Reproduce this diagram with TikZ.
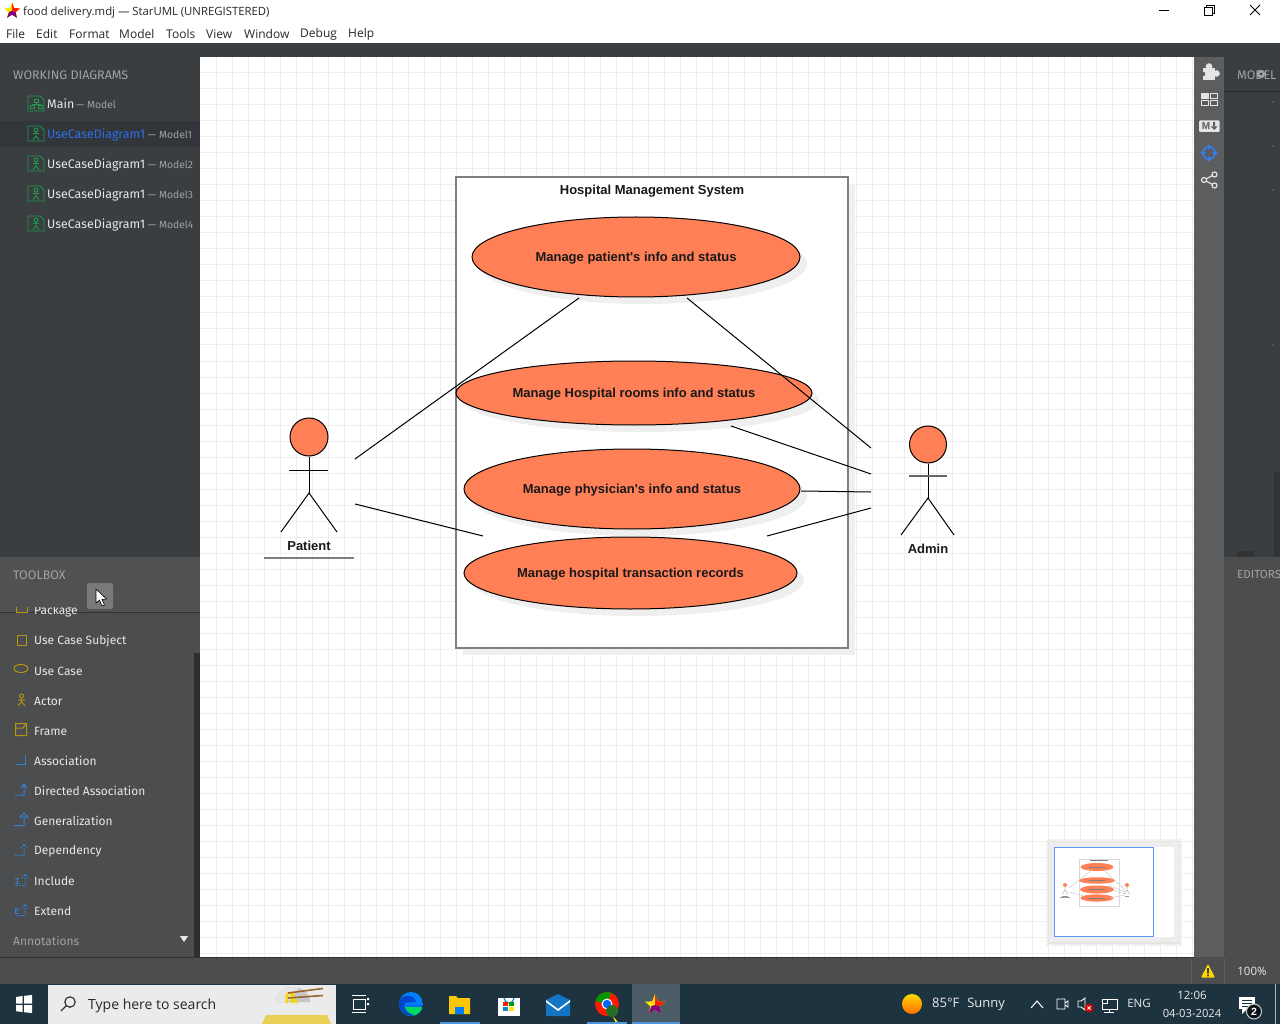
\documentclass[tikz,border=0pt]{standalone}
\usepackage{fontspec}
\setmainfont{Liberation Sans}
\newfontfamily\diagfont{Liberation Sans}
\newfontfamily\uifont{Open Sans}
\newfontfamily\panelfont{Fira Sans}
\usetikzlibrary{shapes.geometric}
\definecolor{darkpanel}{HTML}{3A3E41}
\definecolor{selrow}{HTML}{32363A}
\definecolor{toolpanel}{HTML}{4C4D4F}
\definecolor{toolhead}{HTML}{505153}
\definecolor{iconbar}{HTML}{5C5D5F}
\definecolor{taskbar}{HTML}{1E3340}
\definecolor{gridc}{HTML}{EEEEEE}
\definecolor{shadowc}{HTML}{EFEFEF}
\definecolor{coral}{HTML}{FF7F56}
\definecolor{framec}{HTML}{808080}
\definecolor{greenic}{HTML}{1B9B4B}
\definecolor{goldic}{HTML}{B8930F}
\definecolor{blueic}{HTML}{2F82D6}
\definecolor{crossc}{HTML}{2F80F5}
\definecolor{mutedt}{HTML}{A0A2A4}
\definecolor{lightt}{HTML}{E6E8EA}
\definecolor{linkt}{HTML}{2B6EE8}
\definecolor{iconwhite}{HTML}{E4E4E4}
\newcommand{\fs}[1]{\fontsize{#1}{#1}\selectfont}
\newcommand{\low}[1]{\raisebox{-4.5pt}[5pt][5pt]{#1}}
\newcommand{\docicon}[3]{%
 \begin{scope}[shift={(#1,#2)},greenic,line width=0.9pt]
  \draw (-8,-7.5) -- (4,-7.5) -- (8,-3.5) -- (8,7.5) -- (-8,7.5) -- cycle;
  \ifnum#3=1
   \draw (-2,-4.5) rectangle (2,-1.5) (-6,2) rectangle (-2,5) (2,2) rectangle (6,5) (0,-1.5) -- (0,0.5) (-4,2) -- (-4,0.5) -- (4,0.5) -- (4,2);
  \else
   \draw (0,-3.5) circle (2) (0,-1.5) -- (0,2.5) (-3,0) -- (3,0) (-3,6) -- (0,2.5) -- (3,6);
  \fi
 \end{scope}}
\newcommand{\stariconat}[3]{%
 \begin{scope}[shift={(#1,#2)},scale=#3]
  \fill[yellow!85!orange] (0,-9) -- (2.3,-3) -- (8.5,-2.8) -- (3.8,1.2) -- (5.3,7.3) -- (0,3.9) -- (-5.3,7.3) -- (-3.8,1.2) -- (-8.5,-2.8) -- (-2.3,-3) -- cycle;
  \fill[red!80!orange] (0,-9) -- (2.3,-3) -- (8.5,-2.8) -- (3.8,1.2) -- (0,0) -- cycle;
  \fill[violet] (0,0) -- (3.8,1.2) -- (5.3,7.3) -- (0,3.9) -- (-5.3,7.3) -- (-3,1) -- cycle;
 \end{scope}}
\tikzset{
 uitxt/.style={anchor=west,inner sep=0pt,text=black!85,font=\uifont\fs{12}},
 rowtxt/.style={anchor=west,inner sep=0pt,text=lightt,font=\panelfont\fs{12.4}},
 subtxt/.style={anchor=west,inner sep=0pt,text=mutedt,font=\panelfont\fs{10.3}},
 headtxt/.style={anchor=west,inner sep=0pt,text=mutedt,font=\panelfont\fs{12.5}},
 tooltxt/.style={anchor=west,inner sep=0pt,text=lightt,font=\panelfont\fs{12}},
 traytxt/.style={inner sep=0pt,text=white!92!black,font=\uifont\fs{13}},
 usecase/.style={ellipse,draw=black,line width=1pt,fill=coral,inner sep=0pt,font=\diagfont\bfseries\fs{13},text=black!90},
 actorname/.style={inner sep=0pt,font=\diagfont\bfseries\fs{13},text=black!90},
 actorpart/.style={draw=black,line width=1pt},
 assoc/.style={draw=black,line width=1pt},
 goldicon/.style={draw=goldic,line width=1pt},
 blueicon/.style={draw=blueic,line width=1pt},
 bluedash/.style={draw=blueic,line width=1pt,dash pattern=on 1.5pt off 1.5pt},
 minitrace/.style={draw=black!18,line width=0.6pt},
}
\begin{document}
\begin{tikzpicture}[x=1pt,y=-1pt,line cap=butt]
\useasboundingbox (0,0) rectangle (1280,1024);
\clip (0,0) rectangle (1280,1024);
%---- window chrome
\fill[white] (0,0) rectangle (1280,43);
\fill[darkpanel] (0,43) rectangle (1280,57);
\fill[darkpanel] (0,57) rectangle (200,557);
\fill[toolpanel] (0,557) rectangle (200,957);
\fill[darkpanel] (1224,57) rectangle (1280,557);
\fill[black!30!darkpanel] (1224,91) -- (1280,91) -- (1280,92) -- (1224,92) -- cycle;
\fill[toolpanel] (1224,557) rectangle (1280,957);
\fill[iconbar] (1194,57) rectangle (1224,957);
\fill[toolpanel] (0,957) rectangle (1280,984);
\fill[taskbar] (0,984) rectangle (1280,1024);
\stariconat{12}{11}{0.95}
\node[uitxt,font=\uifont\fs{11.35}] (title) at (23,13) {food delivery.mdj — StarUML (UNREGISTERED)};
\node[uitxt] (mFile) at (6,34) {File};
\node[uitxt] (mEdit) at (36,34) {Edit};
\node[uitxt] (mFormat) at (69,34) {Format};
\node[uitxt] (mModel) at (119,34) {Model};
\node[uitxt] (mTools) at (166,34) {Tools};
\node[uitxt] (mView) at (206,34) {View};
\node[uitxt] (mWindow) at (244,34) {Window};
\node[uitxt] (mDebug) at (300,34) {Debug};
\node[uitxt] (mHelp) at (348,34) {Help};
\draw[black,line width=0.8pt] (1159,10.5) -- (1169,10.5);
\draw[black,line width=0.8pt] (1204.5,7.5) rectangle (1212.5,15.5) (1206.5,7.5) -- (1206.5,5.5) -- (1214.5,5.5) -- (1214.5,13.5) -- (1212.5,13.5);
\draw[black,line width=0.8pt] (1250,5) -- (1260,15) (1260,5) -- (1250,15);
%---- canvas
\fill[white] (200,57) rectangle (1194,957);
\draw[gridc,line width=1pt] \foreach \gx in {216,232,...,1192} {(\gx,57) -- (\gx,957)};
\draw[gridc,line width=1pt] \foreach \gy in {73,89,...,953} {(200,\gy) -- (1194,\gy)};
%---- working diagrams
\fill[selrow] (0,121) rectangle (200,147);
\node[headtxt] (wd) at (13,75) {WORKING DIAGRAMS};
\docicon{36}{103.5}{1}
\docicon{36}{133.5}{0}
\docicon{36}{163.5}{0}
\docicon{36}{193.5}{0}
\docicon{36}{223.5}{0}
\node[rowtxt] (r1) at (47,104) {Main};
\node[subtxt] (r1s) at (76,104.5) {— Model};
\node[rowtxt,text=linkt] (r2) at (47,134.5) {UseCaseDiagram1};
\node[subtxt] (r2s) at (148,134.5) {— Model1};
\node[rowtxt] (r3) at (47,164.5) {UseCaseDiagram1};
\node[subtxt] (r3s) at (148,164.5) {— Model2};
\node[rowtxt] (r4) at (47,194.5) {UseCaseDiagram1};
\node[subtxt] (r4s) at (148,194.5) {— Model3};
\node[rowtxt] (r5) at (47,224.5) {UseCaseDiagram1};
\node[subtxt] (r5s) at (148,224.5) {— Model4};
%---- toolbox
\fill[toolhead] (0,557) rectangle (200,612);
\fill[black!35!toolpanel] (0,612) rectangle (200,613);
\begin{scope}
 \clip (0,607) rectangle (200,957);
 \node[tooltxt] (tPack) at (34,611) {Package};
 \draw[goldicon] (16,601) rectangle (27,612.5);
\end{scope}
\node[headtxt] (tb) at (13,575) {TOOLBOX};
\fill[white!25!toolpanel,rounded corners=2pt] (87,583) rectangle (113,609);
\draw[black,fill=white,line width=0.6pt] (96,589) -- (96,603) -- (99.5,600) -- (102,606) -- (104.5,605) -- (102,599.5) -- (106.5,599) -- cycle;
\fill[black!82] (194,653) rectangle (200,957);
\node[tooltxt] (t1) at (34,641.5) {Use Case Subject};
\node[tooltxt] (t2) at (34,671) {Use Case};
\node[tooltxt] (t3) at (34,701) {Actor};
\node[tooltxt] (t4) at (34,731) {Frame};
\node[tooltxt] (t5) at (34,761) {Association};
\node[tooltxt] (t6) at (34,791) {Directed Association};
\node[tooltxt] (t7) at (34,821) {Generalization};
\node[tooltxt] (t8) at (34,851.5) {Dependency};
\node[tooltxt] (t9) at (34,881) {Include};
\node[tooltxt] (t10) at (34,911) {Extend};
\node[headtxt,font=\panelfont\fs{12}] (tAnn) at (13,941) {Annotations};
\fill[lightt] (180,936) -- (188,936) -- (184,942) -- cycle;
\draw[goldicon] (17,635) rectangle (26,645);
\draw[goldicon] (21,668.5) ellipse [x radius=7, y radius=4];
\draw[goldicon] (21.5,696) circle (2) (21.5,698) -- (21.5,702) (18,700) -- (25,700) (18,705.5) -- (21.5,702) -- (25,705.5);
\draw[goldicon] (15.5,723.5) rectangle (26.5,735.5) (15.5,728) -- (23,728) -- (26,724);
\draw[blueicon] (25.5,755) -- (25.5,764.5) -- (16,764.5);
\draw[blueicon] (24,785) -- (24,795) -- (15,795) (21,788) -- (24,784) -- (27,788);
\draw[blueicon] (24,817) -- (24,825.5) -- (14,825.5) (20,817) -- (24,813) -- (28,817) -- cycle;
\draw[bluedash] (24,845) -- (24,855.5) -- (15,855.5) (21,848) -- (24,844) -- (27,848);
\draw[bluedash] (25,875) -- (25,885.5) -- (15,885.5) (22,878) -- (25,874) -- (28,878);
\draw[blueicon,line width=0.8pt] (15,878) -- (19,878) (17,878) -- (17,883) (15,883) -- (19,883);
\draw[bluedash] (25,905) -- (25,915.5) -- (15,915.5) (22,908) -- (25,904) -- (28,908);
\draw[blueicon,line width=0.8pt] (19,908) -- (15,908) -- (15,913) -- (19,913) (15,910.5) -- (18,910.5);
%---- right icon bar and panel
\fill[iconwhite] (1203,68) rectangle (1215,80);
\fill[iconwhite] (1209,66.5) circle (3.3) (1216.5,73.5) circle (3.3);
\fill[iconbar] (1203,74) circle (2.3);
\draw[iconwhite,line width=1pt] (1201.5,93.5) rectangle (1208.5,98.5) (1210.5,93.5) rectangle (1217.5,98.5) (1201.5,100.5) rectangle (1208.5,105.5) (1210.5,100.5) rectangle (1217.5,105.5);
\fill[iconwhite] (1201.5,93.5) rectangle (1208.5,98.5);
\fill[iconwhite,rounded corners=1pt] (1199,120.5) rectangle (1219.5,132);
\node[inner sep=0pt,font=\diagfont\bfseries\fs{10},text=iconbar] (mdn) at (1206,126.5) {M};
\fill[iconbar] (1213.2,122) rectangle (1215.2,127) (1211,126.5) -- (1217.4,126.5) -- (1214.2,130) -- cycle;
\draw[crossc,line width=1.6pt] (1209,153) circle (6) (1209,145) -- (1209,149) (1209,157) -- (1209,161) (1201,153) -- (1205,153) (1213,153) -- (1217,153);
\draw[iconwhite,line width=1.2pt] (1204,180) circle (2.5) (1214.5,174.5) circle (2.5) (1214.5,185.5) circle (2.5) (1206,179) -- (1212.5,175.5) (1206,181) -- (1212.5,184.5);
\node[headtxt] (model) at (1237,75) {MODEL};
\fill[mutedt] (1261,74) circle (4.2);
\fill[darkpanel] (1261,74) circle (1.5);
\foreach \dy in {102,146,190,345} {\fill[mutedt] (1273,\dy) circle (0.6);}
\fill[black!80] (1274,472) rectangle (1280,557);
\fill[black!80] (1237,551) rectangle (1254,557);
\node[headtxt,font=\panelfont\fs{11.6}] (editors) at (1237,575) {EDITORS};
%---- subject
\fill[shadowc] (463,184) rectangle (855,655);
\node[draw=framec,fill=white,line width=2pt,inner sep=0pt,minimum width=392pt,minimum height=471pt] (subject) at (652,412.5) {};
\node[inner sep=0pt,font=\diagfont\bfseries\fs{13},text=black!90] (subjectTitle) at (652,191) {Hospital Management System};
%---- use cases
\fill[shadowc] (643,264) ellipse [x radius=164, y radius=40];
\fill[shadowc] (641,400) ellipse [x radius=178, y radius=32];
\fill[shadowc] (639,496) ellipse [x radius=168, y radius=40];
\fill[shadowc] (637.5,580) ellipse [x radius=166.5, y radius=36];
\node[usecase,minimum width=328pt,minimum height=80pt] (uc1) at (636,257) {\low{Manage patient's info and status}};
\node[usecase,minimum width=356pt,minimum height=64pt] (uc2) at (634,393) {\low{Manage Hospital rooms info and status}};
\node[usecase,minimum width=336pt,minimum height=80pt] (uc3) at (632,489) {\low{Manage physician's info and status}};
\node[usecase,minimum width=333pt,minimum height=72pt] (uc4) at (630.5,573) {\low{Manage hospital transaction records}};
%---- actors
\node[circle,draw=black,line width=1pt,fill=coral,inner sep=0pt,minimum size=38pt] (patientHead) at (309,437) {};
\coordinate (patientHip) at (309,493);
\draw[actorpart] (patientHead.south) -- (patientHip);
\draw[actorpart] (289,470) -- (328,470);
\draw[actorpart] (281,532) -- (patientHip) -- (337,532);
\node[actorname] (patient) at (309,545.5) {Patient};
\draw[framec,line width=1.3pt] (264,558) -- (354,558);
\node[circle,draw=black,line width=1pt,fill=coral,inner sep=0pt,minimum size=37pt] (adminHead) at (928,444.5) {};
\coordinate (adminHip) at (928,498);
\draw[actorpart] (adminHead.south) -- (adminHip);
\draw[framec!80!black,line width=1.2pt] (909,476) -- (947,476);
\draw[actorpart] (901,535) -- (adminHip) -- (954,535);
\node[actorname] (admin) at (928,548.5) {Admin};
%---- connectors (free ends as in the picture)
\coordinate (pa) at (355,459);
\coordinate (pb) at (355,504);
\coordinate (pc) at (579,298);
\coordinate (pd) at (483,536);
\coordinate (aa) at (871,448);
\coordinate (ab) at (871,474);
\coordinate (ac) at (871,492);
\coordinate (ad) at (871,508);
\coordinate (ae) at (687,298);
\coordinate (af) at (731,426);
\coordinate (ag) at (801,491);
\coordinate (ah) at (767,536);
\draw[assoc] (pa) -- (pc);
\draw[assoc] (pb) -- (pd);
\draw[assoc] (aa) -- (ae);
\draw[assoc] (ab) -- (af);
\draw[assoc] (ac) -- (ag);
\draw[assoc] (ad) -- (ah);
%---- minimap
\fill[black!5] (1046,839) rectangle (1182,946);
\fill[black!10] (1048,841) rectangle (1180,944);
\fill[black!7] (1049,842) rectangle (1179,942);
\fill[white] (1054,847) rectangle (1174,937);
\draw[crossc!80!white,line width=1pt] (1054.5,847.5) rectangle (1153.5,936.5);
\draw[black!15,line width=1pt,fill=white] (1079.5,859.5) rectangle (1119,906.5);
\draw[black!50,line width=0.8pt] (1090,860.5) -- (1108,860.5);
\foreach \mx/\my/\mw/\mh in {1097/867/16.5/4,1097/880.5/18/3.2,1097/889.5/17/4,1097/898/16.7/3.6}{
 \fill[coral] (\mx,\my) ellipse [x radius=\mw, y radius=\mh];
 \draw[black!50,line width=0.7pt] (\mx-8,\my) -- (\mx+8,\my);}
\draw[minitrace] (1069,888) -- (1092,870) (1069,892) -- (1084,896) (1125,890) -- (1104,870) (1125,892) -- (1108,885) (1125,894) -- (1113,890) (1125,895) -- (1110,898);
\fill[coral] (1065,885) circle (2);
\fill[coral] (1127,885) circle (2);
\draw[black!30,line width=0.5pt] (1065,887) -- (1065,890) (1062,894) -- (1065,890) -- (1068,894) (1127,887) -- (1127,890) (1124,894) -- (1127,890) -- (1130,894);
\draw[black!40,line width=0.6pt] (1062,896) -- (1068,896) (1125,896) -- (1129,896) (1060,897.5) -- (1070,897.5);
%---- status bar
\fill[black!35!toolpanel] (0,956.5) rectangle (1194,957.5);
\draw[iconbar,line width=1pt] (1191,958) -- (1191,984) (1224,958) -- (1224,984);
\fill[yellow!75!orange,rounded corners=1pt] (1208,964) -- (1215,977.5) -- (1201,977.5) -- cycle;
\fill[black!75] (1207.2,968) rectangle (1208.8,973.5) (1207.2,974.6) rectangle (1208.8,976.3);
\node[inner sep=0pt,font=\uifont\fs{11.5},text=lightt] (zoomlevel) at (1252,971.5) {100\%};
%---- taskbar
\fill[white] (16,997) -- (22.5,996) -- (22.5,1003.5) -- (16,1003.5) -- cycle (24,995.8) -- (32,995) -- (32,1003.5) -- (24,1003.5) -- cycle (16,1005) -- (22.5,1005) -- (22.5,1012) -- (16,1011.2) -- cycle (24,1005) -- (32,1005) -- (32,1013) -- (24,1012.2) -- cycle;
\fill[black!8] (48,985) rectangle (336,1024);
\draw[black!80,line width=1.2pt] (70,1002) circle (5.2) (66,1006) -- (61,1011);
\node[anchor=west,inner sep=0pt,font=\uifont\fs{14},text=black!85] (search) at (88,1006) {Type here to search};
\fill[yellow!55!brown!80!white] (266,1015) -- (327,1015) -- (331,1024) -- (262,1024) -- cycle;
\fill[black!22] (276,1002) arc[start angle=180,end angle=360,x radius=17,y radius=15] -- cycle;
\fill[white!90!black] (276,1002) arc[start angle=180,end angle=290,x radius=17,y radius=15] -- (288,1002) -- cycle;
\draw[yellow!75!orange,line width=2.6pt] (287,1003) -- (287,993) (292,1003) -- (293,992) (297,1003) -- (290,993);
\draw[brown!80!black,line width=1.6pt] (288,993) -- (323,988.5) (288,998) -- (323,995.5);
\draw[white,line width=1pt] (353,999) rectangle (365,1009) (352,995.5) -- (366,995.5) (352,1012.5) -- (366,1012.5);
\fill[white] (367,998) rectangle (369,1000) (367,1003) rectangle (369,1005);
\begin{scope}
 \clip (411,1004) circle (12);
 \fill[blue!50!cyan] (399,992) rectangle (423,1016);
 \fill[green!55!cyan!85!black] (400,1006) -- (423,1006) -- (423,1016) -- (400,1016) -- cycle;
 \fill[blue!65!cyan!80!black] (399,1016) -- (399,1002) .. controls (401,994) and (414,993) .. (416,1002) -- (405,1003) .. controls (403,1008) and (407,1014) .. (417,1016) -- cycle;
 \fill[taskbar!10!blue!60!cyan] (406,1005) -- (423,1005) -- (423,1007) -- (406,1007) -- cycle;
\end{scope}
\fill[yellow!60!orange] (449,996) -- (456,996) -- (458,998) -- (470,998) -- (470,1014) -- (449,1014) -- cycle;
\fill[blue!50!cyan] (455,1007) rectangle (464,1014);
\fill[white] (498,998) rectangle (520,1016);
\draw[cyan!70!blue,line width=1.2pt] (504,998) arc[start angle=180,end angle=0,radius=5];
\fill[red!80!orange] (503,1002) rectangle (508,1006);
\fill[green!60!black] (509,1002) rectangle (514,1006);
\fill[cyan!70!blue] (503,1007) rectangle (508,1011);
\fill[yellow!90!orange] (509,1007) rectangle (514,1011);
\fill[cyan!55!blue] (546,1000) -- (558,994) -- (570,1000) -- (570,1016) -- (546,1016) -- cycle;
\fill[white] (546,1000) -- (558,1009) -- (570,1000) -- (570,1002) -- (558,1011) -- (546,1002) -- cycle;
\fill[red!80!orange] (607,1004) circle (12);
\fill[green!60!black] (607,1004) -- (595.5,1001) arc[start angle=195,end angle=290,radius=12] -- cycle;
\fill[yellow!90!orange] (607,1004) -- (611,1016) arc[start angle=290,end angle=370,radius=12] -- cycle;
\fill[white] (607,1004) circle (5.5);
\fill[blue!60!cyan] (607,1004) circle (4.2);
\fill[black!60!green!70!gray] (612,1011) circle (6);
\fill[white!20!taskbar] (632,984) rectangle (680,1024);
\stariconat{655}{1005}{1.2}
\fill[blueic!85!white] (440,1022) rectangle (480,1024);
\fill[blueic!85!white] (587,1022) rectangle (627,1024);
\fill[blueic!85!white] (632,1022) rectangle (680,1024);
\shade[top color=yellow!70!orange,bottom color=orange!85!red] (912,1004) circle (10);
\node[traytxt,anchor=west] (weather) at (932,1004.5) {85°F\hspace{8pt}Sunny};
\draw[white,line width=1pt] (1031,1008) -- (1037,1001) -- (1043,1008);
\draw[white,line width=0.9pt] (1057,999) rectangle (1065,1009) (1065,1003) -- (1068,1001) -- (1068,1007) -- (1065,1005);
\draw[white,line width=0.9pt] (1078,1001) -- (1081,1001) -- (1085,998) -- (1085,1010) -- (1081,1007) -- (1078,1007) -- cycle;
\fill[red!85!black] (1089,1008) circle (4.3);
\draw[white,line width=0.8pt] (1087.5,1006.5) -- (1090.5,1009.5) (1090.5,1006.5) -- (1087.5,1009.5);
\draw[white,line width=0.9pt] (1102,999) rectangle (1117,1009) (1109,1009) -- (1109,1012) (1104,1012.5) -- (1114,1012.5) (1102,999) rectangle (1107,1003);
\node[traytxt,font=\uifont\fs{11.5}] (lang) at (1139,1003.5) {ENG};
\node[traytxt,font=\uifont\fs{11.5}] (clock) at (1192,995) {12:06};
\node[traytxt,font=\uifont\fs{11.2}] (date) at (1192,1013) {04-03-2024};
\fill[white] (1239,997) rectangle (1255,1009);
\fill[white] (1242,1009) -- (1247,1009) -- (1242,1014) -- cycle;
\draw[taskbar,line width=0.8pt] (1242,1000) -- (1252,1000) (1242,1003) -- (1252,1003) (1242,1006) -- (1249,1006);
\draw[white!80!black,fill=black!65!taskbar,line width=1pt] (1254,1011.5) circle (7.5);
\node[inner sep=0pt,font=\bfseries\fs{10.5},text=white] (notif) at (1254,1011.5) {2};
\draw[white!65!taskbar,line width=0.8pt] (1275.5,984) -- (1275.5,1024);
\end{tikzpicture}
\end{document}
